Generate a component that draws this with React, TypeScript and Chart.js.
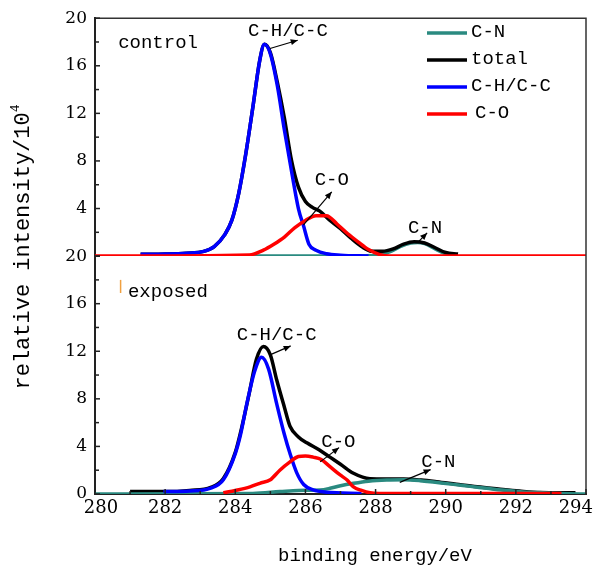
import React, { useEffect, useRef } from "react";
import { Chart, registerables } from "chart.js";

Chart.register(...registerables);

// Binding energy axis (eV)
const energyMin = 280;
const energyMax = 294;
const energyTicks = [280, 282, 284, 286, 288, 290, 292, 294];
// Intensity axis (x10^4) for each panel
const intensityMin = 0;
const intensityMax = 20;
const intensityStep = 4;

// ---- control sample, C 1s fit ----
const controlCNEnergy = [284.5, 288.0, 288.4, 288.7, 289.0, 289.2, 289.4, 289.7, 290.0, 290.3];
const controlCNIntensity = [0, 0.05, 0.35, 0.8, 1.1, 1.15, 1.05, 0.6, 0.2, 0];

const controlTotalEnergy = [281.3, 282.0, 282.6, 283.1, 283.4, 283.7, 283.9, 284.1, 284.3, 284.5, 284.7, 284.83, 285.0, 285.2, 285.4, 285.6, 285.8, 286.0, 286.2, 286.4, 286.7, 287.0, 287.3, 287.6, 287.9, 288.2, 288.5, 288.8, 289.1, 289.4, 289.7, 290.0, 290.35];
const controlTotalIntensity = [0.15, 0.18, 0.25, 0.4, 0.8, 1.8, 3.0, 5.3, 8.6, 12.5, 16.5, 17.8, 17.1, 14.6, 11.6, 8.1, 5.8, 4.6, 4.1, 3.8, 3.0, 2.3, 1.5, 0.8, 0.4, 0.4, 0.6, 1.0, 1.2, 1.1, 0.7, 0.3, 0.17];

const controlCHEnergy = [281.3, 282.0, 282.6, 283.1, 283.4, 283.7, 283.9, 284.1, 284.3, 284.5, 284.7, 284.83, 285.0, 285.2, 285.4, 285.6, 285.8, 285.95, 286.1, 286.3, 286.6, 287.0, 287.8];
const controlCHIntensity = [0.15, 0.18, 0.25, 0.4, 0.8, 1.8, 3.0, 5.3, 8.6, 12.5, 16.5, 17.8, 17.0, 14.3, 10.6, 7.2, 4.0, 2.5, 1.0, 0.5, 0.2, 0.08, 0];

const controlCOEnergy = [280, 284.4, 284.8, 285.1, 285.4, 285.7, 286.0, 286.3, 286.6, 286.9, 287.2, 287.5, 287.8, 288.1, 288.4, 294];
const controlCOIntensity = [0, 0.1, 0.5, 1.0, 1.6, 2.4, 3.0, 3.4, 3.4, 2.7, 1.9, 1.2, 0.55, 0.15, 0, 0];

// ---- exposed sample, C 1s fit ----
const exposedCNEnergy = [280, 284.5, 285.27, 285.8, 286.42, 286.7, 287.0, 287.37, 287.8, 288.32, 288.8, 289.27, 289.7, 290.22, 290.7, 291.17, 291.6, 292.12, 292.6, 293.07, 293.5, 294];
const exposedCNIntensity = [0, 0.05, 0.2, 0.3, 0.34, 0.48, 0.7, 0.9, 1.08, 1.18, 1.2, 1.12, 0.98, 0.81, 0.64, 0.48, 0.33, 0.2, 0.12, 0.06, 0.02, 0];

const exposedTotalEnergy = [281.0, 282.0, 282.7, 283.3, 283.66, 284.0, 284.2, 284.4, 284.6, 284.8, 285.0, 285.18, 285.4, 285.56, 285.8, 286.04, 286.4, 286.7, 287.0, 287.37, 287.84, 288.3, 288.8, 289.3, 289.74, 290.3, 290.9, 291.5, 292.1, 292.7, 293.3, 293.7];
const exposedTotalIntensity = [0.2, 0.2, 0.3, 0.55, 1.3, 3.5, 5.8, 8.5, 11.3, 12.4, 11.7, 9.6, 7.3, 5.7, 4.8, 4.3, 3.7, 3.1, 2.5, 1.74, 1.28, 1.26, 1.26, 1.17, 1.03, 0.82, 0.6, 0.42, 0.25, 0.12, 0.1, 0.1];

const exposedCHEnergy = [281.95, 282.7, 283.3, 283.66, 284.0, 284.15, 284.33, 284.55, 284.75, 284.95, 285.18, 285.4, 285.56, 285.75, 285.95, 286.22, 286.6, 287.6];
const exposedCHIntensity = [0.2, 0.25, 0.5, 1.2, 3.4, 5.0, 7.6, 10.3, 11.5, 10.5, 7.6, 5.0, 3.4, 1.8, 0.8, 0.34, 0.15, 0.05];

const exposedCOEnergy = [283.66, 284.0, 284.42, 284.7, 285.0, 285.27, 285.56, 285.8, 286.0, 286.22, 286.45, 286.7, 286.99, 287.18, 287.37, 287.6, 287.84, 288.1, 293.3];
const exposedCOIntensity = [0.1, 0.3, 0.6, 0.9, 1.2, 2.0, 2.7, 3.15, 3.2, 3.1, 2.9, 2.3, 1.6, 1.2, 0.6, 0.3, 0.1, 0.05, 0.05];

// Series names and colours, in legend order
const seriesLabels = ["C-N", "total", "C-H/C-C", "C-O"];
const seriesColors = ["#2a8a80", "#000000", "#0000ff", "#ff0000"];
// draw order: higher value is painted first (underneath)
const controlOrder = [4, 3, 2, 1];
const exposedOrder = [2.5, 3, 2, 1];

// Peak labels with arrows, in (energy, intensity) of each panel
type Note = { axis: "yTop" | "yBot"; text: string; tx: number; ty: number; from?: [number, number]; to?: [number, number] };
const peakNotes: Note[] = [
  { axis: "yTop", text: "C-H/C-C", tx: 285.5, ty: 18.9, from: [284.99, 17.45], to: [285.78, 18.15] },
  { axis: "yTop", text: "C-O", tx: 286.75, ty: 6.4, from: [285.94, 2.6], to: [286.75, 5.4] },
  { axis: "yTop", text: "C-N", tx: 289.41, ty: 2.35, from: [289.22, 1.2], to: [289.47, 1.95] },
  { axis: "yBot", text: "C-H/C-C", tx: 285.18, ty: 13.4, from: [284.99, 11.7], to: [285.58, 12.45] },
  { axis: "yBot", text: "C-O", tx: 286.94, ty: 4.4, from: [286.42, 2.7], to: [286.96, 3.9] },
  { axis: "yBot", text: "C-N", tx: 289.79, ty: 2.7, from: [288.69, 0.98], to: [289.57, 2.05] },
];

const MONO = '"Liberation Mono", "DejaVu Sans Mono", monospace';
const SERIF = '"DejaVu Serif", "Liberation Serif", serif';

const toPoints = (xs: number[], ys: number[]) => xs.map((x, i) => ({ x, y: ys[i] }));

const controlSeries = [
  toPoints(controlCNEnergy, controlCNIntensity),
  toPoints(controlTotalEnergy, controlTotalIntensity),
  toPoints(controlCHEnergy, controlCHIntensity),
  toPoints(controlCOEnergy, controlCOIntensity),
];
const exposedSeries = [
  toPoints(exposedCNEnergy, exposedCNIntensity),
  toPoints(exposedTotalEnergy, exposedTotalIntensity),
  toPoints(exposedCHEnergy, exposedCHIntensity),
  toPoints(exposedCOEnergy, exposedCOIntensity),
];

function drawArrow(ctx: CanvasRenderingContext2D, x1: number, y1: number, x2: number, y2: number) {
  ctx.beginPath();
  ctx.moveTo(x1, y1);
  ctx.lineTo(x2, y2);
  ctx.stroke();
  const a = Math.atan2(y2 - y1, x2 - x1);
  const L = 7;
  const W = 3;
  const bx = x2 - L * Math.cos(a);
  const by = y2 - L * Math.sin(a);
  ctx.beginPath();
  ctx.moveTo(x2, y2);
  ctx.lineTo(bx + W * Math.sin(a), by - W * Math.cos(a));
  ctx.lineTo(bx - W * Math.sin(a), by + W * Math.cos(a));
  ctx.closePath();
  ctx.fill();
}

const decorations = {
  id: "xpsDecorations",
  afterDatasetsDraw(chart: any) {
    const { ctx, chartArea } = chart;
    const xs = chart.scales.x;
    const yTop = chart.scales.yTop;
    const yBot = chart.scales.yBot;
    const { left, right, top, bottom } = chartArea;

    ctx.save();
    // frame: top and right edges
    ctx.strokeStyle = "#333";
    ctx.lineWidth = 1.5;
    ctx.beginPath();
    ctx.moveTo(left, top);
    ctx.lineTo(right, top);
    ctx.lineTo(right, bottom);
    ctx.stroke();

    // inward tick marks
    ctx.strokeStyle = "#222";
    ctx.lineWidth = 1.5;
    for (const sc of [yTop, yBot]) {
      for (let v = intensityMin; v <= intensityMax; v += intensityStep / 2) {
        const y = sc.getPixelForValue(v);
        const len = v % intensityStep === 0 ? 5 : 4;
        ctx.beginPath();
        ctx.moveTo(left, y);
        ctx.lineTo(left + len, y);
        ctx.stroke();
      }
    }
    for (let e = energyMin; e <= energyMax; e += 1) {
      const x = xs.getPixelForValue(e);
      const len = e % 2 === 0 ? 5 : 3;
      ctx.beginPath();
      ctx.moveTo(x, bottom);
      ctx.lineTo(x, bottom - len);
      ctx.stroke();
    }

    // energy tick labels
    ctx.fillStyle = "#000";
    ctx.font = `18px ${SERIF}`;
    ctx.textBaseline = "middle";
    ctx.textAlign = "center";
    const cw = chart.width;
    for (const e of energyTicks) {
      const label = String(e);
      const w = ctx.measureText(label).width;
      let x = xs.getPixelForValue(e);
      if (e === energyMin) x += 6;
      if (x + w / 2 > cw - 1) x = cw - 1 - w / 2;
      ctx.fillText(label, x, bottom + 14);
    }

    // axis titles
    ctx.font = `19px ${MONO}`;
    ctx.fillText("binding energy/eV", 375, 556);

    ctx.save();
    ctx.translate(23, 247);
    ctx.rotate(-Math.PI / 2);
    ctx.font = `22px ${MONO}`;
    const main = "relative intensity/10";
    const wMain = ctx.measureText(main).width;
    ctx.font = `13px ${MONO}`;
    const wSup = ctx.measureText("4").width;
    const start = -(wMain + wSup) / 2;
    ctx.textAlign = "left";
    ctx.font = `22px ${MONO}`;
    ctx.fillText(main, start, 0);
    ctx.font = `13px ${MONO}`;
    ctx.fillText("4", start + wMain, -7);
    ctx.restore();

    // panel names
    ctx.textAlign = "left";
    ctx.font = `19px ${MONO}`;
    ctx.fillText("control", xs.getPixelForValue(280.66), yTop.getPixelForValue(17.9));
    ctx.fillText("exposed", xs.getPixelForValue(280.94), yBot.getPixelForValue(17.0));
    ctx.strokeStyle = "#f0a040";
    ctx.lineWidth = 1.5;
    ctx.beginPath();
    const mx = xs.getPixelForValue(280.73);
    ctx.moveTo(mx, yBot.getPixelForValue(18.0));
    ctx.lineTo(mx, yBot.getPixelForValue(16.9));
    ctx.stroke();

    // legend, built from the control panel's datasets
    const legendItems = chart.data.datasets.filter((d: any) => d.yAxisID === "yTop");
    legendItems.forEach((d: any, i: number) => {
      const y = 33 + i * 27;
      ctx.strokeStyle = d.borderColor;
      ctx.lineWidth = 3.5;
      ctx.beginPath();
      ctx.moveTo(427, y);
      ctx.lineTo(467, y);
      ctx.stroke();
      ctx.fillStyle = "#000";
      ctx.font = `19px ${MONO}`;
      ctx.textAlign = "left";
      ctx.fillText(d.label, d.label === "C-O" ? 475 : 471, y - 1);
    });

    // peak labels and arrows
    ctx.fillStyle = "#000";
    ctx.strokeStyle = "#000";
    ctx.lineWidth = 1.2;
    ctx.textAlign = "center";
    ctx.font = `19px ${MONO}`;
    for (const n of peakNotes) {
      const sc = n.axis === "yTop" ? yTop : yBot;
      ctx.fillText(n.text, xs.getPixelForValue(n.tx), sc.getPixelForValue(n.ty));
      if (n.from && n.to) {
        drawArrow(
          ctx,
          xs.getPixelForValue(n.from[0]),
          sc.getPixelForValue(n.from[1]),
          xs.getPixelForValue(n.to[0]),
          sc.getPixelForValue(n.to[1])
        );
      }
    }
    ctx.restore();
  },
};

export default function App() {
  const canvasRef = useRef<HTMLCanvasElement | null>(null);

  useEffect(() => {
    const canvas = canvasRef.current;
    if (!canvas) return;

    const makeSets = (series: { x: number; y: number }[][], axis: string, order: number[]) =>
      series.map((data, i) => ({
        label: seriesLabels[i],
        data,
        yAxisID: axis,
        borderColor: seriesColors[i],
        backgroundColor: seriesColors[i],
        borderWidth: 3.5,
        pointRadius: 0,
        fill: false,
        cubicInterpolationMode: "monotone" as const,
        order: order[i],
      }));

    const yAxis = (hideZero: boolean) => ({
      type: "linear" as const,
      position: "left" as const,
      stack: "panels",
      stackWeight: 1,
      min: intensityMin,
      max: intensityMax,
      ticks: {
        stepSize: intensityStep,
        color: "#000",
        padding: 8,
        font: { family: SERIF, size: 17 },
        callback: (v: any) => (hideZero && v === 0 ? "" : String(v)),
      },
      grid: { display: false, drawTicks: false },
      border: { display: true, color: "#222", width: 2 },
      afterFit: (s: any) => {
        s.width = 95;
      },
    });

    const chart = new Chart(canvas, {
      type: "line",
      data: {
        datasets: [
          ...makeSets(controlSeries, "yTop", controlOrder),
          ...makeSets(exposedSeries, "yBot", exposedOrder),
        ],
      },
      options: {
        animation: false,
        responsive: false,
        devicePixelRatio: 1,
        parsing: false as any,
        layout: { padding: { top: 18, right: 8, left: 0, bottom: 0 } },
        plugins: { legend: { display: false }, tooltip: { enabled: false } },
        scales: {
          x: {
            type: "linear",
            min: energyMin,
            max: energyMax,
            ticks: { display: false, stepSize: 2 },
            grid: { display: false, drawTicks: false },
            border: { display: true, color: "#222", width: 2 },
            afterFit: (s: any) => {
              s.height = 75;
              s.paddingLeft = 0;
              s.paddingRight = 0;
            },
          },
          yBot: yAxis(false),
          yTop: yAxis(true),
        } as any,
      },
      plugins: [decorations],
    });

    return () => chart.destroy();
  }, []);

  return (
    <div style={{ position: "fixed", left: 0, top: 0, width: 594, height: 569, background: "#fff" }}>
      <canvas ref={canvasRef} width={594} height={569} style={{ display: "block" }} />
    </div>
  );
}
